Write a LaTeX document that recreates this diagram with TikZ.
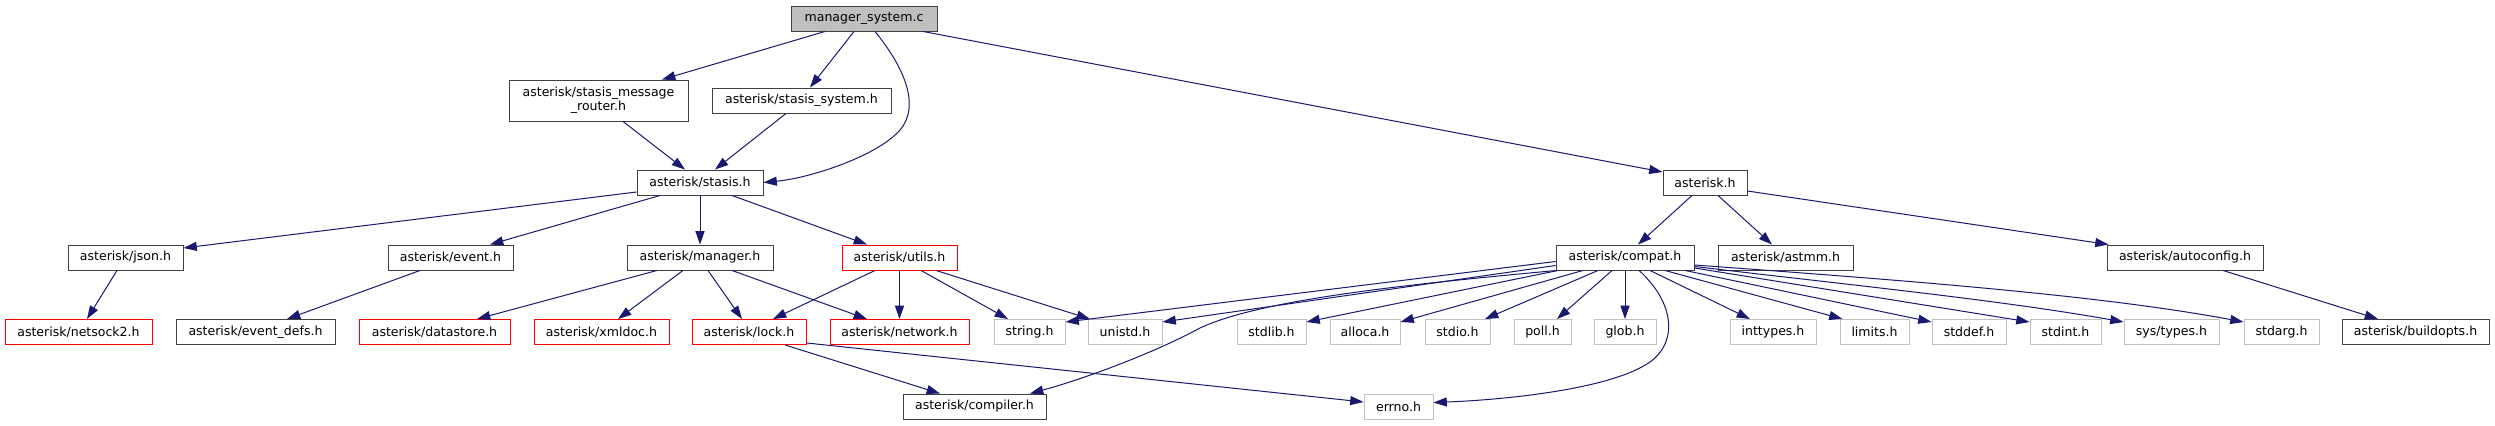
\documentclass[tikz,border=0pt]{standalone}
\usepackage{fontspec}
\setmainfont{DejaVu Sans}
\usetikzlibrary{arrows.meta,calc}
\definecolor{edgeblue}{HTML}{191970}
\definecolor{boxgray}{HTML}{BFBFBF}
\definecolor{lightborder}{HTML}{C0C0C0}
\definecolor{darkborder}{HTML}{404040}
\definecolor{redborder}{HTML}{FF0000}
\begin{document}
\begin{tikzpicture}[x=0.75pt,y=-0.75pt,
  hdr/.style={draw=darkborder, line width=0.7pt, fill=white, minimum height=18.75pt, inner sep=0pt, font=\fontsize{9.4pt}{10.5pt}\selectfont},
  redbox/.style={hdr, draw=redborder},
  sysbox/.style={hdr, draw=lightborder},
  rootbox/.style={hdr, fill=boxgray},
  wd/.style={minimum width=#1*0.75pt},
  edge/.style={draw=edgeblue, line width=0.75pt, -{Triangle[length=10pt,width=6.75pt]}}
]
\fill[white] (0,0) rectangle (2495,425);
\useasboundingbox (0,0) rectangle (2495,425);

% row 1
\node[rootbox, wd=146] (ms) at (864,18.5) {manager\_system.c};
% row 2
\node[hdr, wd=179, minimum height=30.75pt, align=center] (router) at (598.5,100.5) {asterisk/stasis\_message\\\_router.h};
\node[hdr, wd=179] (ssys) at (801.5,100.5) {asterisk/stasis\_system.h};
% row 3
\node[hdr, wd=126] (stasis) at (700,182.5) {asterisk/stasis.h};
\node[hdr, wd=84] (ast) at (1705,182.5) {asterisk.h};
% row 4
\node[hdr, wd=115] (json) at (125.5,257.5) {asterisk/json.h};
\node[hdr, wd=125] (event) at (450.5,257.5) {asterisk/event.h};
\node[hdr, wd=146] (mgrh) at (700,257.5) {asterisk/manager.h};
\node[redbox, wd=115] (utils) at (899.5,257.5) {asterisk/utils.h};
\node[hdr, wd=138] (compat) at (1625,257.5) {asterisk/compat.h};
\node[hdr, wd=135] (astmm) at (1785.5,257.5) {asterisk/astmm.h};
\node[hdr, wd=156] (autoconf) at (2185,257.5) {asterisk/autoconfig.h};
% row 5
\node[redbox, wd=147] (netsock) at (78.5,332) {asterisk/netsock2.h};
\node[hdr, wd=159] (evdefs) at (255.5,332) {asterisk/event\_defs.h};
\node[redbox, wd=151] (datastore) at (434.5,332) {asterisk/datastore.h};
\node[redbox, wd=135] (xmldoc) at (601.5,332) {asterisk/xmldoc.h};
\node[redbox, wd=114] (lock) at (749,332) {asterisk/lock.h};
\node[redbox, wd=139] (network) at (899.5,332) {asterisk/network.h};
\node[sysbox, wd=71] (string) at (1029.5,332) {string.h};
\node[sysbox, wd=74] (unistd) at (1125,332) {unistd.h};
\node[sysbox, wd=69] (stdlib) at (1271.5,332) {stdlib.h};
\node[sysbox, wd=70] (alloca) at (1365,332) {alloca.h};
\node[sysbox, wd=65] (stdio) at (1457.5,332) {stdio.h};
\node[sysbox, wd=57] (poll) at (1542.5,332) {poll.h};
\node[sysbox, wd=62] (glob) at (1625,332) {glob.h};
\node[sysbox, wd=86] (inttypes) at (1773,332) {inttypes.h};
\node[sysbox, wd=69] (limits) at (1874.5,332) {limits.h};
\node[sysbox, wd=74] (stddef) at (1969,332) {stddef.h};
\node[sysbox, wd=71] (stdint) at (2065.5,332) {stdint.h};
\node[sysbox, wd=95] (systypes) at (2171.5,332) {sys/types.h};
\node[sysbox, wd=75] (stdarg) at (2281.5,332) {stdarg.h};
\node[hdr, wd=147] (buildopts) at (2415.5,332) {asterisk/buildopts.h};
% row 6
\node[hdr, wd=143] (compiler) at (974.5,406.5) {asterisk/compiler.h};
\node[sysbox, wd=69] (errno) at (1398.5,406.5) {errno.h};

% edges
\draw[edge] ($(ms.south)+(-39,0)$) -- ($(router.north)+(63.5,0)$);
\draw[edge] ($(ms.south)+(-10,0)$) -- ($(ssys.north)+(8.5,0)$);
\draw[edge] ($(ms.south)+(11,0)$) .. controls (908,72) and (922,112) .. (895,135) .. controls (870,158) and (810,178) .. (stasis.east);
\draw[edge] ($(ms.south)+(59,0)$) -- ($(ast.west)+(0,-10.5)$);
\draw[edge] ($(router.south)+(24.5,0)$) -- ($(stasis.north)+(-15,0)$);
\draw[edge] ($(ssys.south)+(-15.5,0)$) -- ($(stasis.north)+(15,0)$);
\draw[edge] ($(stasis.west)+(0,9.5)$) -- ($(json.east)+(0,-9.5)$);
\draw[edge] ($(stasis.south)+(-40,0)$) -- ($(event.north)+(39.5,0)$);
\draw[edge] (stasis) -- (mgrh);
\draw[edge] ($(stasis.south)+(32,0)$) -- ($(utils.north)+(-32.5,0)$);
\draw[edge] ($(json.south)+(-8.5,0)$) -- ($(netsock.north)+(8.5,0)$);
\draw[edge] ($(event.south)+(-30.5,0)$) -- ($(evdefs.north)+(31.5,0)$);
\draw[edge] ($(mgrh.south)+(-43,0)$) -- ($(datastore.north)+(42.5,0)$);
\draw[edge] ($(mgrh.south)+(-17,0)$) -- ($(xmldoc.north)+(16.5,0)$);
\draw[edge] ($(mgrh.south)+(8,0)$) -- ($(lock.north)+(-7,0)$);
\draw[edge] ($(mgrh.south)+(32,0)$) -- ($(network.north)+(-32.5,0)$);
\draw[edge] ($(utils.south)+(-24.5,0)$) -- ($(lock.north)+(24,0)$);
\draw[edge] (utils) -- (network);
\draw[edge] ($(utils.south)+(21.5,0)$) -- ($(string.north)+(-21.5,0)$);
\draw[edge] ($(utils.south)+(36.5,0)$) -- ($(unistd.north)+(-35,0)$);
\draw[edge] ($(lock.south)+(36,0)$) -- ($(compiler.north)+(-34.5,0)$);
\draw[edge] ($(lock.south east)+(0,-2)$) -- ($(errno.west)+(0,-4.5)$);
\draw[edge] ($(ast.south)+(-13,0)$) -- ($(compat.north)+(13,0)$);
\draw[edge] ($(ast.south)+(13,0)$) -- ($(astmm.north)+(-13.5,0)$);
\draw[edge] ($(ast.east)+(0,8.5)$) -- ($(autoconf.north west)+(2,0)$);
\draw[edge] ($(autoconf.south)+(38,0)$) -- ($(buildopts.north)+(-37.5,0)$);

% compat.h fan-out
\draw[edge] ($(compat.west)+(0,4)$) -- ($(string.east)+(0,-10)$);
\draw[edge] ($(compat.west)+(0,8)$) -- ($(unistd.east)+(0,-10)$);
\draw[edge] ($(compat.south west)+(1,0)$) .. controls (1400,285) and (1260,300) .. (1200,328) .. controls (1150,355) and (1080,380) .. ($(compiler.north)+(55.5,0)$);
\draw[edge] ($(compat.south)+(-67,0)$) -- ($(stdlib.east)+(0,-10)$);
\draw[edge] ($(compat.south)+(-42,0)$) -- ($(alloca.east)+(0,-10)$);
\draw[edge] ($(compat.south)+(-27,0)$) -- ($(stdio.north)+(27.5,0)$);
\draw[edge] ($(compat.south)+(-13,0)$) -- ($(poll.north)+(14.5,0)$);
\draw[edge] (compat) -- (glob);
\draw[edge] ($(compat.south)+(14,0)$) .. controls (1672,300) and (1680,340) .. (1650,362) .. controls (1610,390) and (1500,400) .. ($(errno.east)+(0,-4)$);
\draw[edge] ($(compat.south)+(25,0)$) -- ($(inttypes.north)+(-23,0)$);
\draw[edge] ($(compat.south)+(40,0)$) -- ($(limits.north west)+(3,0)$);
\draw[edge] ($(compat.south)+(60,0)$) -- ($(stddef.west)+(0,-10)$);
\draw[edge] ($(compat.east)+(0,10.5)$) -- ($(stdint.west)+(0,-10)$);
\draw[edge] ($(compat.east)+(0,9)$) .. controls (1850,285) and (2000,300) .. ($(systypes.west)+(0,-10)$);
\draw[edge] ($(compat.east)+(0,7.5)$) .. controls (1900,280) and (2100,295) .. ($(stdarg.west)+(0,-10)$);
\end{tikzpicture}
\end{document}
